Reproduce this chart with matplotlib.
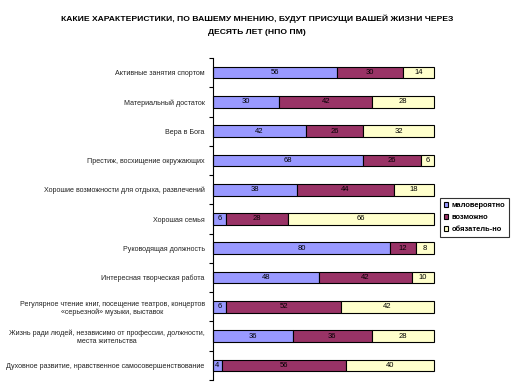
import matplotlib
matplotlib.use("Agg")
import matplotlib.pyplot as plt
import numpy as np

plt.rcParams['font.family'] = ['Liberation Sans', 'DejaVu Sans']

categories = [
    "Активные занятия спортом",
    "Материальный достаток",
    "Вера в Бога",
    "Престиж, восхищение окружающих",
    "Хорошие возможности для отдыха, развлечений",
    "Хорошая семья",
    "Руководящая должность",
    "Интересная творческая работа",
    "Регулярное чтение книг, посещение театров, концертов\n«серьезной» музыки, выставок",
    "Жизнь ради людей, независимо от профессии, должности,\nместа жительства",
    "Духовное развитие, нравственное самосовершенствование",
]
unlikely = [56, 30, 42, 68, 38, 6, 80, 48, 6, 36, 4]
possible = [30, 42, 26, 26, 44, 28, 12, 42, 52, 36, 56]
certain = [14, 28, 32, 6, 18, 66, 8, 10, 42, 28, 40]
series_names = ["маловероятно", "возможно", "обязатель-но"]
colors = ["#9999FF", "#993366", "#FFFFCC"]

fig = plt.figure(figsize=(5.14, 3.92), dpi=100)
ax = fig.add_axes([213/514, 1-380/392, 221/514, 322/392])

y = np.arange(len(categories))
left = np.zeros(len(categories))
bars = []
for vals, name, col in zip([unlikely, possible, certain], series_names, colors):
    b = ax.barh(y, vals, left=left, height=0.4, color=col, edgecolor='black',
                linewidth=0.8, label=name, clip_on=False)
    for yi, v, l in zip(y, vals, left):
        ax.text(l + v/2, yi, str(v), ha='center', va='center', fontsize=5.5)
    left = left + np.array(vals)
    bars.append(b)

ax.set_xlim(0, 100)
ax.set_ylim(len(categories) - 0.5, -0.5)
ax.set_yticks(y)
ax.set_yticklabels(categories, fontsize=5.1, color='#222222')
for lab in ax.get_yticklabels():
    lab.set_multialignment('center')
ax.tick_params(axis='y', which='major', length=0, pad=6)
ax.set_yticks(np.arange(-0.5, len(categories)), minor=True)
ax.tick_params(axis='y', which='minor', length=3, width=0.8, direction='out')
ax.set_xticks([])
for s in ['top', 'right', 'bottom']:
    ax.spines[s].set_visible(False)
ax.spines['left'].set_linewidth(0.8)

fig.text(0.5, 1-25.5/392, "КАКИЕ ХАРАКТЕРИСТИКИ, ПО ВАШЕМУ МНЕНИЮ, БУДУТ ПРИСУЩИ ВАШЕЙ ЖИЗНИ ЧЕРЕЗ\nДЕСЯТЬ ЛЕТ (НПО ПМ)",
         ha='center', va='center', fontsize=6.1, fontweight='bold', linespacing=2.2)

leg = fig.legend(handles=bars, loc='upper left', bbox_to_anchor=(440/514, 1-198/392),
                 fontsize=5.4, frameon=True, fancybox=False, handlelength=0.6,
                 handleheight=0.6, handletextpad=0.4, borderpad=0.5, labelspacing=0.7,
                 borderaxespad=0)
leg.get_frame().set_edgecolor('black')
leg.get_frame().set_linewidth(0.8)
for t in leg.get_texts():
    t.set_fontweight('bold')

fig.savefig("out.png", dpi=100)
